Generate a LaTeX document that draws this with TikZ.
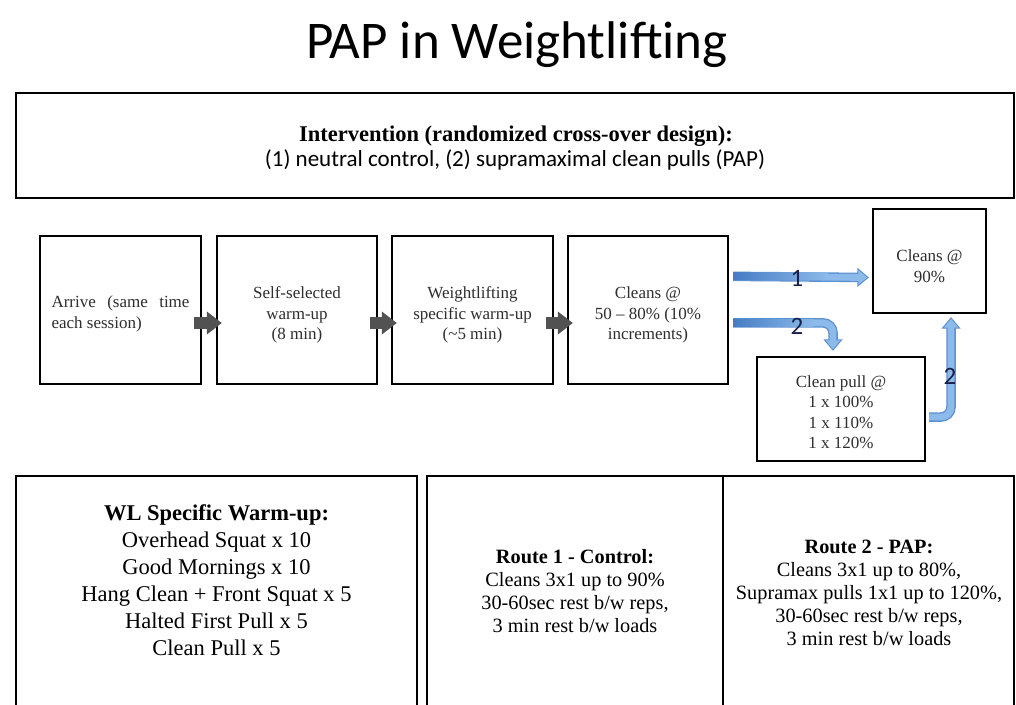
\documentclass[tikz,border=0pt]{standalone}
\usepackage{fontspec}
\setmainfont{Liberation Serif}
\newfontfamily\calibri{Carlito}
\usetikzlibrary{arrows.meta,calc,shadows}
\definecolor{bluefill}{RGB}{140,186,234}
\definecolor{bluedark}{RGB}{70,124,196}
\definecolor{blueline}{RGB}{92,144,208}
\definecolor{arrgray}{RGB}{82,82,82}
\definecolor{lblcol}{RGB}{22,32,72}
\begin{document}
\begin{tikzpicture}[x=1pt,y=-1pt,
  box/.style={draw=black, line width=2.3pt, fill=white, inner sep=0pt, rectangle,
    drop shadow={shadow xshift=1.3pt, shadow yshift=-1.3pt, fill=black, opacity=0.22}},
  panel/.style={draw=black, line width=2.3pt, fill=white, inner sep=0pt, rectangle},
  flowtxt/.style={font=\fontsize{17}{20.5}\selectfont, text=black!82, align=center, inner sep=0pt},
  grayarr/.style={draw=arrgray, line width=12pt, -{Triangle[width=22pt,length=15pt]}},
  blueout/.style={draw=blueline, line width=9.5pt, rounded corners=10pt,
    -{Triangle[width=18.5pt,length=11.5pt]}},
  bluein/.style={draw=bluefill, line width=6.8pt, rounded corners=10pt, shorten >=1.7pt,
    -{Triangle[width=14pt,length=8.8pt]}},
  blueshade/.style={left color=bluedark, right color=bluefill, draw=none},
  lbl/.style={font=\calibri\fontsize{25}{28}\selectfont, text=lblcol, inner sep=0pt}
]
\useasboundingbox (0,0) rectangle (1016,704);
\clip (0,0) rectangle (1016,704);
\fill[white] (0,0) rectangle (1016,704);

% title
\node[font=\calibri\fontsize{53}{58}\selectfont, anchor=base, inner sep=0pt] (title) at (517,58) {PAP in Weightlifting};

% intervention box
\node[box, minimum width=998pt, minimum height=105pt] (iv) at (515,145.5) {};
\node[align=center, inner sep=0pt, font=\fontsize{22.5}{25}\selectfont\bfseries, anchor=base] (iv1) at (516,141)
  {Intervention (randomized cross-over design):};
\node[align=center, inner sep=0pt, font=\calibri\fontsize{23}{25}\selectfont, anchor=base] (iv2) at (515,166)
  {(1) neutral control, (2) supramaximal clean pulls (PAP)};

% flow boxes
\node[box, minimum width=161pt, minimum height=148pt] (c1) at (120.5,310) {};
\node[box, minimum width=160pt, minimum height=148pt] (c2) at (297,310) {};
\node[box, minimum width=161pt, minimum height=148pt] (c3) at (472.5,310) {};
\node[box, minimum width=160pt, minimum height=148pt] (c4) at (648,310) {};
\node[box, minimum width=113pt, minimum height=104pt] (c5) at (929.5,261) {};
\node[box, minimum width=168pt, minimum height=104pt] (c6) at (841,409) {};

\node[flowtxt, align=left] (x1) at ($(c1.center)+(0,4)$) {\makebox[138pt][s]{Arrive (same time}\\each session)};
\node[flowtxt] (x2) at (297,315) {Self-selected\\warm-up\\(8 min)};
\node[flowtxt] (x3) at (472.5,315) {Weightlifting\\specific warm-up\\(\textasciitilde5 min)};
\node[flowtxt] (x4) at (648,315) {Cleans @\\50 -- 80\% (10\%\\increments)};
\node[flowtxt] (x5) at (929.5,266) {Cleans @\\90\%};
\node[flowtxt] (x6) at (841,412) {Clean pull @\\1 x 100\%\\1 x 110\%\\1 x 120\%};

% gray arrows
\draw[grayarr] ($(c1.east)+(-8,13)$) -- ($(c2.west)+(6,13)$);
\draw[grayarr] ($(c2.east)+(-8,13)$) -- ($(c3.west)+(6,13)$);
\draw[grayarr] ($(c3.east)+(-8,13)$) -- ($(c4.west)+(6,13)$);

% blue arrows
\coordinate (a1s) at ($(c4.north east)+(4,41.5)$);
\coordinate (a1e) at ($(c5.west)+(-3,16.5)$);
\coordinate (a2s) at ($(c4.north east)+(4,88)$);
\coordinate (a2e) at ($(c6.north)+(-8,-5)$);
\coordinate (a3s) at ($(c6.east)+(3,8)$);
\coordinate (a3e) at ($(c5.south)+(21.5,3)$);
\draw[blueout] (a1s) -- (a1e);
\draw[bluein] (a1s) -- (a1e);
\shade[blueshade] ($(a1s)+(0,-3.4)$) rectangle ($(a1s)+(95,3.4)$);
\draw[blueout] (a2s) -| (a2e);
\draw[bluein] (a2s) -| (a2e);
\shade[blueshade] ($(a2s)+(0,-3.4)$) rectangle ($(a2s)+(80,3.4)$);
\draw[blueout] (a3s) -| (a3e);
\draw[bluein] (a3s) -| (a3e);

\node[lbl] (l1) at (797,278) {1};
\node[lbl] (l2) at (797,326) {2};
\node[lbl] (l3) at (950,376) {2};

% bottom panels
\node[panel, minimum width=401pt, minimum height=250pt] (p1) at (216.5,601) {};
\node[panel, minimum width=296pt, minimum height=250pt] (p2) at (575,601) {};
\node[panel, minimum width=291pt, minimum height=250pt] (p3) at (868.5,601) {};

\node[align=center, inner sep=0pt, font=\fontsize{22.5}{27}\selectfont] (t1) at (216.5,580)
  {{\bfseries WL Specific Warm-up:}\\Overhead Squat x 10\\Good Mornings x 10\\Hang Clean + Front Squat x 5\\Halted First Pull x 5\\Clean Pull x 5};
\node[align=center, inner sep=0pt, font=\fontsize{20.3}{23}\selectfont] (t2) at (575,591)
  {{\bfseries Route 1 - Control:}\\Cleans 3x1 up to 90\%\\30-60sec rest b/w reps,\\3 min rest b/w loads};
\node[align=center, inner sep=0pt, font=\fontsize{20.3}{23}\selectfont] (t3) at (869,593)
  {{\bfseries Route 2 - PAP:}\\Cleans 3x1 up to 80\%,\\Supramax pulls 1x1 up to 120\%,\\30-60sec rest b/w reps,\\3 min rest b/w loads};
\end{tikzpicture}
\end{document}
